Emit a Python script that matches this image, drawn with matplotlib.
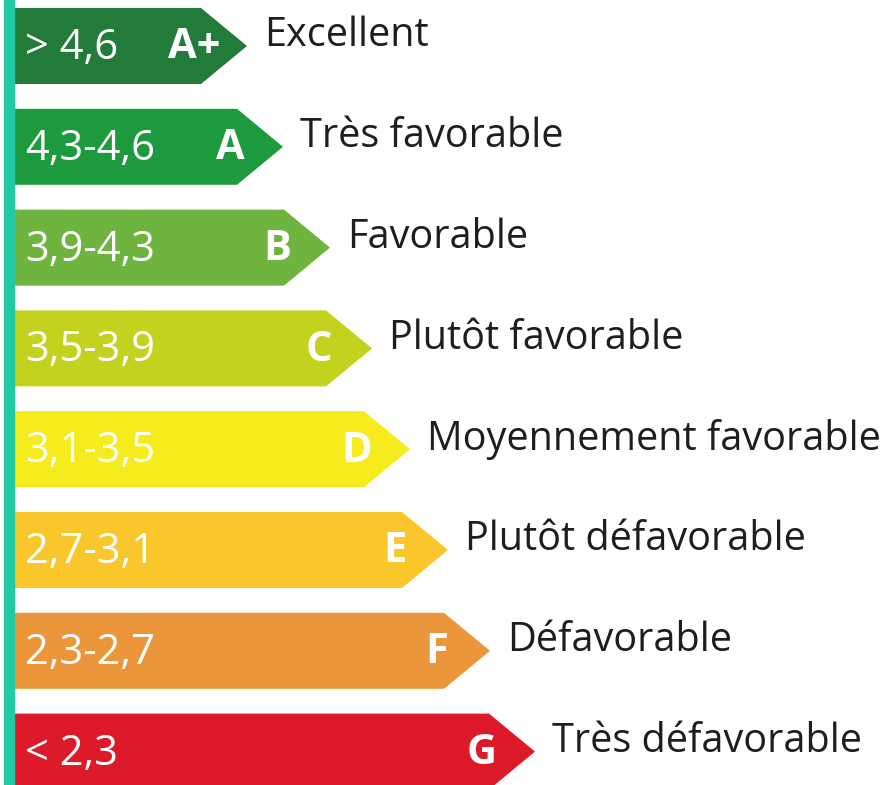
import matplotlib
matplotlib.use("Agg")
import matplotlib.pyplot as plt
from matplotlib.patches import Polygon, Rectangle

# data
grades = ["A+", "A", "B", "C", "D", "E", "F", "G"]
ranges = ["> 4,6", "4,3-4,6", "3,9-4,3", "3,5-3,9", "3,1-3,5", "2,7-3,1", "2,3-2,7", "< 2,3"]
descriptions = ["Excellent", "Très favorable", "Favorable", "Plutôt favorable",
                "Moyennement favorable", "Plutôt défavorable", "Défavorable",
                "Très défavorable"]
arrow_lengths = [232, 268, 315, 357, 395, 433, 475, 520]
colors = ["#237b3a", "#1e9a3e", "#6fb43f", "#c3d21f", "#f6eb1c", "#f9c72b", "#ec963c", "#dc1a2a"]

W, H = 883, 785
fig = plt.figure(figsize=(W / 100, H / 100), dpi=100)
ax = fig.add_axes([0, 0, 1, 1])
ax.set_xlim(0, W)
ax.set_ylim(H, 0)
ax.axis("off")

x0 = 15
row_h = 76
pitch = 100.8
top0 = 8
tip_w = 46
font = "Open Sans"

ax.add_patch(Rectangle((4, 0), 10, H, color="#23c9a0", zorder=3))

for i, (g, r, d, L, c) in enumerate(zip(grades, ranges, descriptions, arrow_lengths, colors)):
    top = top0 + i * pitch
    bot = top + row_h
    mid = (top + bot) / 2
    tip = x0 + L
    body = tip - tip_w
    ax.add_patch(Polygon([(x0, top), (body, top), (tip, mid), (body, bot), (x0, bot)],
                         closed=True, facecolor=c, edgecolor="none", zorder=2))
    ax.text(x0 + 10, mid + 2, r, color="white", fontsize=30, family=font,
            ha="left", va="center", zorder=4)
    ax.text(body - 7, mid + 2, g, color="white", fontsize=30, family=font,
            fontweight="bold", ha="center", va="center", zorder=4)
    ax.text(tip + 17, mid - 10, d, color="#1e1e1e", fontsize=28.5, family=font,
            ha="left", va="center", zorder=4)

fig.savefig("out.png", dpi=100, facecolor="white")
